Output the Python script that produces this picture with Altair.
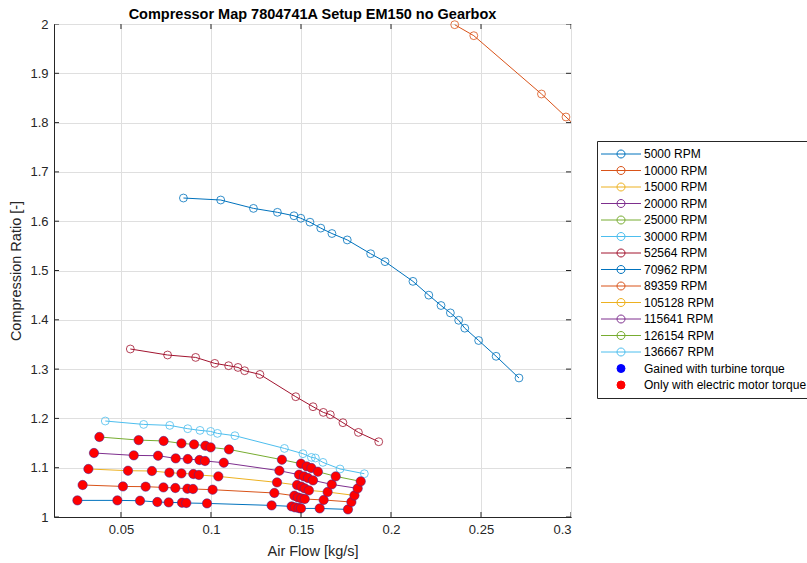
import altair as alt
import pandas as pd

# ---------------- data ----------------
rpm_labels = ["5000 RPM", "10000 RPM", "15000 RPM", "20000 RPM", "25000 RPM",
              "30000 RPM", "52564 RPM", "70962 RPM", "89359 RPM", "105128 RPM",
              "115641 RPM", "126154 RPM", "136667 RPM"]
dot_labels = ["Gained with turbine torque", "Only with electric motor torque"]
line_colors = ["#0072BD", "#D95319", "#EDB120", "#7E2F8E", "#77AC30", "#4DBEEE",
               "#A2142F", "#0072BD", "#D95319", "#EDB120", "#7E2F8E", "#77AC30",
               "#4DBEEE"]
dot_colors = ["#0000FF", "#FF0000"]

x_5000 = [0.0258, 0.048, 0.0606, 0.0702, 0.0765, 0.0839, 0.0863, 0.0978,
          0.1337, 0.1448, 0.1467, 0.1487, 0.15, 0.1604, 0.1761]
y_5000 = [1.0337, 1.0337, 1.033, 1.0304, 1.0296, 1.029, 1.0284, 1.0276,
          1.0235, 1.0215, 1.0195, 1.0182, 1.0174, 1.0174, 1.0154]

x_10000 = [0.0287, 0.0511, 0.0637, 0.0736, 0.0802, 0.0869, 0.09, 0.1009,
           0.1352, 0.1463, 0.1483, 0.1502, 0.1521, 0.1626, 0.178]
y_10000 = [1.0649, 1.062, 1.0615, 1.06, 1.0588, 1.0574, 1.0568, 1.0554,
           1.0487, 1.0432, 1.0398, 1.0377, 1.0365, 1.0345, 1.0304]

x_15000 = [0.0319, 0.0539, 0.0672, 0.0769, 0.0836, 0.0902, 0.0933, 0.1041,
           0.1367, 0.1478, 0.1502, 0.1521, 0.1544, 0.1648, 0.1797]
y_15000 = [1.0974, 1.0939, 1.0933, 1.0899, 1.0884, 1.0872, 1.0852, 1.0824,
           1.0702, 1.0649, 1.0615, 1.058, 1.054, 1.0507, 1.0438]

x_20000 = [0.035, 0.0571, 0.0706, 0.0804, 0.0871, 0.0936, 0.0967, 0.1071,
           0.138, 0.1489, 0.1517, 0.1539, 0.1567, 0.1671, 0.1815]
y_20000 = [1.1298, 1.125, 1.1243, 1.1189, 1.1176, 1.1156, 1.1136, 1.1101,
           1.0939, 1.0858, 1.0824, 1.0791, 1.0743, 1.0661, 1.058]

x_25000 = [0.038, 0.0598, 0.0737, 0.0836, 0.0906, 0.0969, 0.0998, 0.11,
           0.1394, 0.15, 0.1532, 0.1558, 0.1594, 0.1693, 0.1832]
y_25000 = [1.1623, 1.156, 1.1542, 1.1493, 1.1473, 1.1446, 1.1412, 1.1371,
           1.1162, 1.1081, 1.1026, 1.0994, 1.0919, 1.0824, 1.0722]

x_30000 = [0.0413, 0.0626, 0.0771, 0.0871, 0.0939, 0.0998, 0.1036, 0.1133,
           0.1408, 0.1511, 0.1558, 0.158, 0.1622, 0.1717, 0.1852]
y_30000 = [1.1947, 1.1878, 1.1858, 1.1791, 1.1757, 1.1736, 1.1696, 1.1649,
           1.1391, 1.1284, 1.1209, 1.1197, 1.1108, 1.0974, 1.0878]

x_52564 = [0.0552, 0.0759, 0.0915, 0.1021, 0.1098, 0.115, 0.1187, 0.1272,
           0.1471, 0.1567, 0.1624, 0.1663, 0.1733, 0.1819, 0.1932]
y_52564 = [1.3408, 1.3286, 1.3237, 1.3116, 1.3069, 1.3034, 1.2967, 1.2892,
           1.244, 1.2237, 1.2122, 1.2075, 1.1913, 1.1716, 1.1527]

x_70962 = [0.0847, 0.1054, 0.1236, 0.1369, 0.1461, 0.1499, 0.155, 0.161,
           0.1672, 0.1757, 0.1887, 0.1967, 0.2122, 0.221, 0.2278, 0.233,
           0.2376, 0.241, 0.2487, 0.2584, 0.2711]
y_70962 = [1.647, 1.643, 1.626, 1.618, 1.611, 1.606, 1.598, 1.586,
           1.575, 1.562, 1.534, 1.518, 1.478, 1.450, 1.429, 1.414,
           1.399, 1.383, 1.358, 1.326, 1.282]

x_89359 = [0.2354, 0.246, 0.2836, 0.2972, 0.31]
y_89359 = [1.9986, 1.9763, 1.858, 1.8114, 1.767]

motor_only_series = ["5000 RPM", "10000 RPM", "15000 RPM", "20000 RPM", "25000 RPM"]

x_min, x_max = 0.0128, 0.3
y_min, y_max = 1.0, 2.0
x_ticks = [0.05, 0.1, 0.15, 0.2, 0.25, 0.3]
y_ticks = [1.0, 1.1, 1.2, 1.3, 1.4, 1.5, 1.6, 1.7, 1.8, 1.9, 2.0]

# ---------------- tables ----------------
curves = [
    ("5000 RPM", x_5000, y_5000), ("10000 RPM", x_10000, y_10000),
    ("15000 RPM", x_15000, y_15000), ("20000 RPM", x_20000, y_20000),
    ("25000 RPM", x_25000, y_25000), ("30000 RPM", x_30000, y_30000),
    ("52564 RPM", x_52564, y_52564), ("70962 RPM", x_70962, y_70962),
    ("89359 RPM", x_89359, y_89359),
]
rows = []
for name, xs, ys in curves:
    for i, (a, b) in enumerate(zip(xs, ys)):
        rows.append({"series": name, "x": a, "y": b, "order": i,
                     "motor": name in motor_only_series})
df = pd.DataFrame(rows)

all_labels = rpm_labels + dot_labels
legend_df = pd.DataFrame({"entry": all_labels})
xtick_df = pd.DataFrame({"t": x_ticks})
ytick_df = pd.DataFrame({"t": y_ticks})

FONT = "Liberation Sans"
AX = "#262626"
line_symbol = "M-5,0H5M1,0A1,1 0 1,1 -1,0A1,1 0 1,1 1,0Z"

curve_scale = alt.Scale(domain=rpm_labels, range=line_colors)
stroke_scale = alt.Scale(domain=all_labels, range=line_colors + dot_colors)
fill_scale = alt.Scale(domain=all_labels,
                       range=["transparent"] * len(rpm_labels) + dot_colors)
shape_scale = alt.Scale(domain=all_labels,
                        range=[line_symbol] * len(rpm_labels) + ["circle", "circle"])

x_scale = alt.Scale(domain=[x_min, x_max], nice=False, zero=False)
y_scale = alt.Scale(domain=[y_min, y_max], nice=False, zero=False)
x_enc = alt.X("x:Q", scale=x_scale,
              axis=alt.Axis(values=x_ticks, format="~g", title="Air Flow [kg/s]"))
y_enc = alt.Y("y:Q", scale=y_scale,
              axis=alt.Axis(values=y_ticks, format="~g", title="Compression Ratio [-]"))

base = alt.Chart(df)

lines = base.mark_line(strokeWidth=1, clip=True).encode(
    x=x_enc, y=y_enc,
    color=alt.Color("series:N", scale=curve_scale, legend=None),
    order="order:Q",
)

points = base.transform_filter("datum.x <= 0.3").mark_point(
    shape="circle", filled=False, size=62, strokeWidth=0.8, opacity=1
).encode(
    x="x:Q", y="y:Q",
    color=alt.Color("series:N", scale=curve_scale, legend=None),
)

dots = base.transform_filter("datum.motor").mark_circle(
    size=88, color="#FF0000", stroke="#3a2aa0", strokeWidth=0.5, opacity=1
).encode(x="x:Q", y="y:Q")

# inward tick marks on all four sides (MATLAB box style)
tick_style = dict(clip=True, size=10, thickness=1, color=AX, opacity=1)
xt_bottom = alt.Chart(xtick_df).mark_tick(orient="vertical", **tick_style).encode(
    x="t:Q", y=alt.datum(y_min))
xt_top = alt.Chart(xtick_df).mark_tick(orient="vertical", **tick_style).encode(
    x="t:Q", y=alt.datum(y_max))
yt_left = alt.Chart(ytick_df).mark_tick(orient="horizontal", **tick_style).encode(
    y="t:Q", x=alt.datum(x_min))
yt_right = alt.Chart(ytick_df).mark_tick(orient="horizontal", **tick_style).encode(
    y="t:Q", x=alt.datum(x_max))

leg = alt.Legend(title=None, orient="none", legendX=543, legendY=117,
                 padding=7, strokeColor=AX, fillColor="white",
                 symbolOffset=11, labelOffset=17, symbolSize=64,
                 symbolStrokeWidth=1, symbolOpacity=1,
                 symbolFillColor="transparent", labelFont=FONT,
                 labelFontSize=12, labelColor="black", rowPadding=4.5,
                 labelLimit=400, cornerRadius=0)

legend_layer = alt.Chart(legend_df).mark_point(opacity=0).encode(
    x=alt.value(0), y=alt.value(0),
    stroke=alt.Stroke("entry:N", scale=stroke_scale, legend=leg),
    fill=alt.Fill("entry:N", scale=fill_scale, legend=leg),
    shape=alt.Shape("entry:N", scale=shape_scale, legend=leg),
)

chart = alt.layer(lines, points, dots, xt_bottom, xt_top, yt_left, yt_right,
                  legend_layer).properties(
    width=517, height=493,
    padding={"left": 54, "top": 24, "right": 236, "bottom": 46},
    autosize=alt.AutoSizeParams(type="none"),
    title=alt.Title("Compressor Map 7804741A Setup EM150 no Gearbox",
                    font=FONT, fontSize=14.5, fontWeight="bold",
                    color="black", anchor="middle", offset=5, dy=9),
).configure_axis(
    labelFont=FONT, labelFontSize=13, labelColor=AX,
    titleFont=FONT, titleFontSize=14.5, titleColor=AX,
    titleFontWeight="normal", gridColor="#dfdfdf", gridWidth=1,
    domainColor=AX, ticks=False, labelPadding=6,
).configure_axisX(titlePadding=8).configure_axisY(titlePadding=6).configure_view(
    stroke=AX, strokeWidth=1
)

chart.save("out.html", embed_options={"renderer": "svg", "actions": False})
